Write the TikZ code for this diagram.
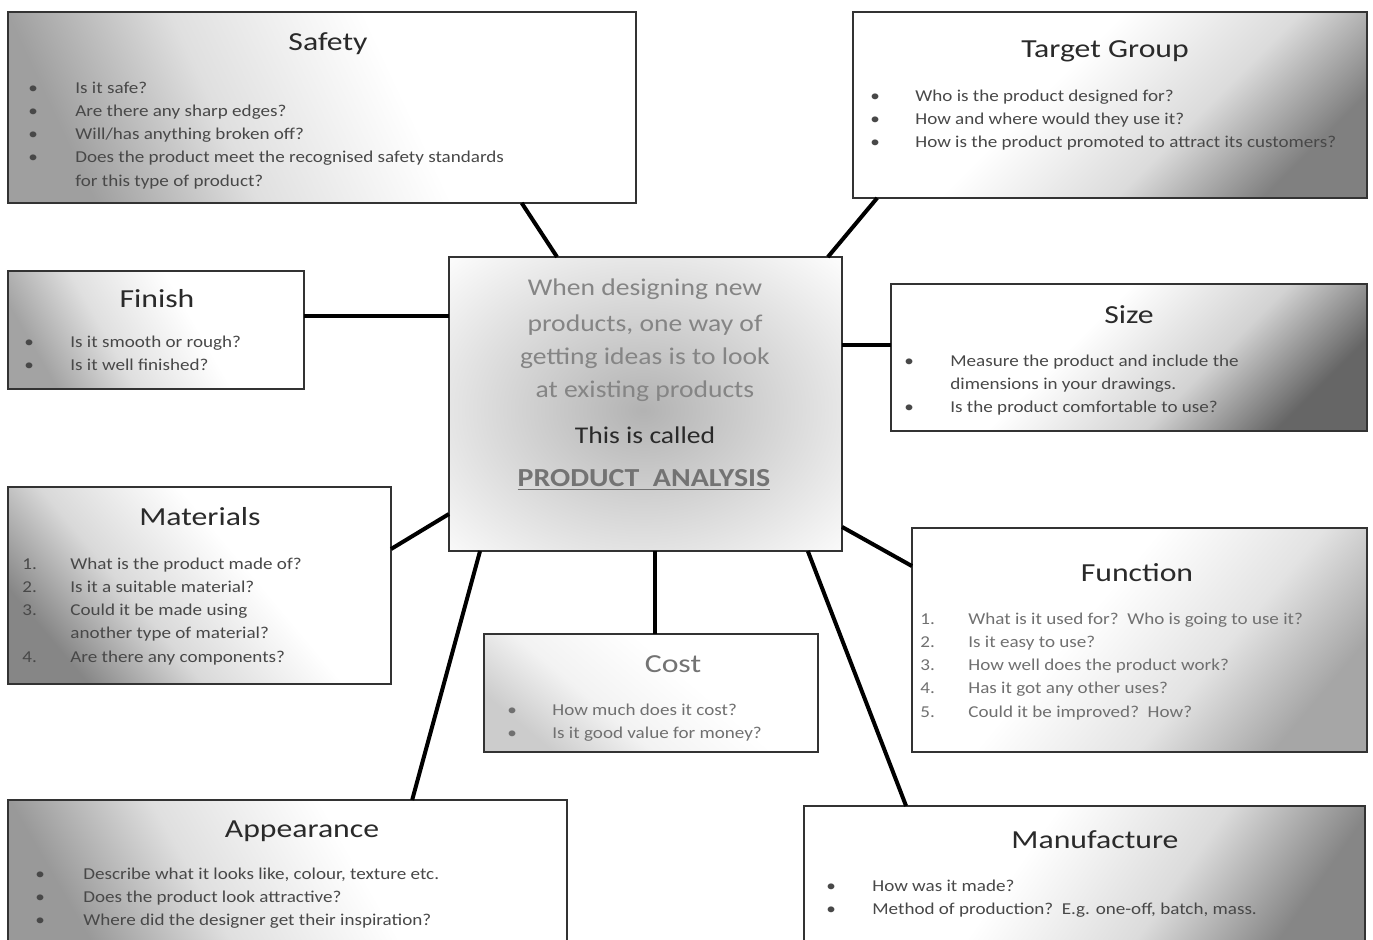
\documentclass[tikz,border=0pt]{standalone}
\usepackage{fontspec}
\setmainfont{Carlito}
\newfontfamily\bodyfont{Carlito}[FakeStretch=1.15]
\newfontfamily\titlefont{Carlito}[FakeStretch=1.22]
\usetikzlibrary{calc}
\definecolor{boxline}{HTML}{333333}
\definecolor{titlecol}{HTML}{2A2A2A}
\definecolor{bodycol}{HTML}{484848}
\definecolor{lightbody}{HTML}{707070}
\definecolor{centergray}{HTML}{858585}
\colorlet{dk}{gray}
\colorlet{md}{gray!30}
\pgfdeclareverticalshading[dk,md]{boxsh}{100bp}{color(0bp)=(dk); color(25bp)=(dk); color(40bp)=(md); color(58bp)=(white); color(100bp)=(white)}
\newcommand\myline[6]{\node[#1,anchor=base west] at (#2,#4) {#5};\node[#1,anchor=base west] at (#3,#4) {#6};}
\newcommand\mycont[4]{\node[#1,anchor=base west] at (#2,#3) {#4};}
\begin{document}
\begin{tikzpicture}[x=0.5pt,y=-0.5pt,
  box/.style={draw=boxline, line width=1pt, rectangle, anchor=north west, inner sep=0pt, outer sep=0pt},
  shd/.style n args={3}{/utils/exec={\colorlet{dk}{#1}\colorlet{md}{#2}}, shade, shading=boxsh, shading angle=#3},
  boxtitle/.style={font=\titlefont\fontsize{13}{15}\selectfont, text=titlecol, anchor=base, inner sep=0pt},
  body/.style={font=\bodyfont\fontsize{8.3}{10}\selectfont, text=bodycol, inner sep=0pt},
  lbody/.style={font=\bodyfont\fontsize{8.3}{10}\selectfont, text=lightbody, inner sep=0pt},
  ctext/.style={font=\bodyfont\fontsize{12}{14}\selectfont, text=centergray, anchor=base, inner sep=0pt},
  conn/.style={line width=2pt, black}]
\path[use as bounding box] (0,0) rectangle (1373,939);
\clip (0,0) rectangle (1373,939);

% boxes
\node[box, minimum width=314pt, minimum height=95.5pt, shd={gray!75}{gray!25}{-65}] (safety) at (8,12) {};
\node[box, minimum width=257pt, minimum height=93pt, shd={gray!100}{gray!28}{45}] (target) at (853,12) {};
\node[box, minimum width=148pt, minimum height=59pt, shd={gray!72}{gray!25}{-60}] (finish) at (8,271) {};
\node[box, minimum width=196.5pt, minimum height=147pt, fill=white] (center) at (449,257) {};
\node[box, minimum width=238pt, minimum height=73.5pt, shd={black!60}{gray!35}{45}] (size) at (891,284) {};
\node[box, minimum width=191.5pt, minimum height=98.5pt, shd={gray!95}{gray!30}{-50}] (materials) at (8,487) {};
\node[box, minimum width=227.5pt, minimum height=112pt, shd={gray!70}{gray!22}{50}] (function) at (912,528) {};
\node[box, minimum width=167pt, minimum height=59pt, shd={gray!40}{gray!10}{-40}] (cost) at (484,634) {};
\node[box, minimum width=279.5pt, minimum height=75pt, shd={gray!80}{gray!25}{-60}] (appearance) at (8,800) {};
\node[box, minimum width=280.5pt, minimum height=72pt, shd={gray!95}{gray!28}{55}] (manufacture) at (804,806) {};

% centre glow
\begin{scope}
  \clip (center.south west) rectangle (center.north east);
  \fill[inner color=gray!60, outer color=white] (643,410) ellipse [x radius=145pt, y radius=110pt];
\end{scope}
\draw[boxline, line width=1pt] (center.south west) rectangle (center.north east);

% connectors
\coordinate (cf) at ($(center.north west)!0.2!(center.south west)$);
\coordinate (ce) at ($(center.north east)!0.3!(center.south east)$);
\coordinate (cs) at ($(center.south west)!0.524!(center.south east)$);
\draw[conn] ($(safety.south west)!0.818!(safety.south east)$) -- ($(center.north west)!0.275!(center.north east)$);
\draw[conn] ($(target.south west)!0.047!(target.south east)$) -- ($(center.north west)!0.964!(center.north east)$);
\draw[conn] (cf) -- (finish.east |- cf);
\draw[conn] (ce) -- (size.west |- ce);
\draw[conn] ($(materials.north east)!0.315!(materials.south east)$) -- ($(center.north west)!0.874!(center.south west)$);
\draw[conn] ($(center.north east)!0.918!(center.south east)$) -- ($(function.north west)!0.17!(function.south west)$);
\draw[conn] (cs) -- (cost.north -| cs);
\draw[conn] ($(center.south west)!0.079!(center.south east)$) -- ($(appearance.north west)!0.723!(appearance.north east)$);
\draw[conn] ($(center.south west)!0.913!(center.south east)$) -- ($(manufacture.north west)!0.182!(manufacture.north east)$);

% Safety
\node[boxtitle] at (328,50) {Safety};
\myline{body}{28}{75}{93}{•}{Is it safe?}
\myline{body}{28}{75}{116}{•}{Are there any sharp edges?}
\myline{body}{28}{75}{139}{•}{Will/has anything broken off?}
\myline{body}{28}{75}{162}{•}{Does the product meet the recognised safety standards}
\mycont{body}{75}{186}{for this type of product?}

% Target Group
\node[boxtitle] at (1105,57) {Target Group};
\myline{body}{870}{915}{101}{•}{Who is the product designed for?}
\myline{body}{870}{915}{124}{•}{How and where would they use it?}
\myline{body}{870}{915}{147}{•}{How is the product promoted to attract its customers?}

% Finish
\node[boxtitle] at (157,307) {Finish};
\myline{body}{24}{70}{347}{•}{Is it smooth or rough?}
\myline{body}{24}{70}{370}{•}{Is it well finished?}

% Centre
\node[ctext] at (645,295) {When designing new};
\node[ctext] at (645,331) {products, one way of};
\node[ctext] at (645,364) {getting ideas is to look};
\node[ctext] at (645,397) {at existing products};
\node[ctext, text=titlecol] at (645,443) {This is called};
\node[ctext, text=gray!90!black, font=\bodyfont\bfseries\fontsize{13}{15}\selectfont] at (644,486) {\underline{PRODUCT\ \ ANALYSIS}};

% Size
\node[boxtitle] at (1129,323) {Size};
\myline{body}{904}{950}{366}{•}{Measure the product and include the}
\mycont{body}{950}{389}{dimensions in your drawings.}
\myline{body}{904}{950}{412}{•}{Is the product comfortable to use?}

% Materials
\node[boxtitle] at (200,525) {Materials};
\myline{body}{22}{70}{569}{1.}{What is the product made of?}
\myline{body}{22}{70}{592}{2.}{Is it a suitable material?}
\myline{body}{22}{70}{615}{3.}{Could it be made using}
\mycont{body}{70}{638}{another type of material?}
\myline{body}{22}{70}{662}{4.}{Are there any components?}

% Function
\node[boxtitle] at (1137,581) {Function};
\myline{lbody}{920}{968}{624}{1.}{What is it used for?\ \ Who is going to use it?}
\myline{lbody}{920}{968}{647}{2.}{Is it easy to use?}
\myline{lbody}{920}{968}{670}{3.}{How well does the product work?}
\myline{lbody}{920}{968}{693}{4.}{Has it got any other uses?}
\myline{lbody}{920}{968}{717}{5.}{Could it be improved?\ \ How?}

% Cost
\node[boxtitle, text=gray!90!black] at (673,672) {Cost};
\myline{lbody}{507}{552}{715}{•}{How much does it cost?}
\myline{lbody}{507}{552}{738}{•}{Is it good value for money?}

% Appearance
\node[boxtitle] at (302,837) {Appearance};
\myline{body}{35}{83}{879}{•}{Describe what it looks like, colour, texture etc.}
\myline{body}{35}{83}{902}{•}{Does the product look attractive?}
\myline{body}{35}{83}{925}{•}{Where did the designer get their inspiration?}

% Manufacture
\node[boxtitle] at (1095,848) {Manufacture};
\myline{body}{826}{872}{891}{•}{How was it made?}
\myline{body}{826}{872}{914}{•}{Method of production?\ \ E.g. one-off, batch, mass.}
\end{tikzpicture}
\end{document}
